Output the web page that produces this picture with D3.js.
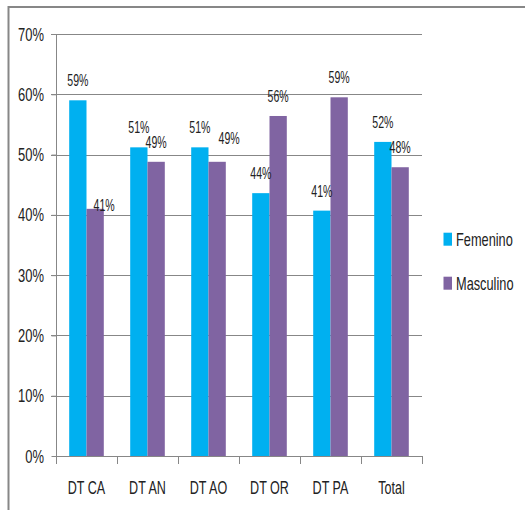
<!DOCTYPE html>
<html>
<head>
<meta charset="utf-8">
<script src="https://cdn.jsdelivr.net/npm/d3@7"></script>
<style>
  html, body { margin: 0; padding: 0; background: #fff; }
  svg { display: block; }
  text { font-family: "Liberation Sans", Arial, sans-serif; fill: #222; }
</style>
</head>
<body>
<svg id="chart" width="525" height="510"></svg>
<script>
// ---- data ----
const categories = ["DT CA", "DT AN", "DT AO", "DT OR", "DT PA", "Total"];
const series = ["Femenino", "Masculino"];
const femenino = [0.59, 0.512, 0.512, 0.436, 0.407, 0.521];
const masculino = [0.41, 0.488, 0.488, 0.564, 0.595, 0.479];
const labelsFem = ["59%", "51%", "51%", "44%", "41%", "52%"];
const labelsMasc = ["41%", "49%", "49%", "56%", "59%", "48%"];
const yTicks = [0, 0.1, 0.2, 0.3, 0.4, 0.5, 0.6, 0.7];
const colors = ["#00B0F0", "#8064A2"];

// label nudges (manual placements seen in the reference)
const labelNudge = { "Masculino|DT CA": [9, 16], "Masculino|DT AO": [12, -4] };

(function () {
const svg = d3.select("#chart");
const mLeft = 56, mRight = 422, mTop = 34, mBottom = 456;

const x = d3.scaleBand().domain(categories).range([mLeft, mRight]).paddingInner(0).paddingOuter(0);
const x1 = d3.scaleBand().domain(series).range([0, x.bandwidth()]).paddingInner(0).paddingOuter(0.763);
const y = d3.scaleLinear().domain([0, 0.7]).range([mBottom, mTop]);
const color = d3.scaleOrdinal().domain(series).range(colors);

// frame
svg.append("rect").attr("x", 8.5).attr("y", 7).attr("width", 540).attr("height", 540)
  .attr("fill", "none").attr("stroke", "#878787").attr("stroke-width", 2);

// gridlines
svg.append("g").selectAll("line").data(yTicks.filter(t => t > 0)).join("line")
  .attr("x1", mLeft - 5).attr("x2", mRight)
  .attr("y1", d => Math.round(y(d)) + 0.5).attr("y2", d => Math.round(y(d)) + 0.5)
  .attr("stroke", "#878787").attr("stroke-width", 1);

// y axis
const yAxis = svg.append("g").attr("transform", `translate(${mLeft + 0.5},0)`)
  .call(d3.axisLeft(y).tickValues(yTicks).tickSize(5).tickFormat(""));
yAxis.selectAll("path,line").attr("stroke", "#878787");
yAxis.select(".domain").attr("d", `M0,${mTop}V${mBottom}`);

svg.append("g").selectAll("text").data(yTicks).join("text")
  .attr("transform", d => `translate(44,${y(d) + 6.5}) scale(0.72,1)`)
  .attr("text-anchor", "end").style("font-size", "18px")
  .text(d3.format(".0%"));

// bars
const data = categories.map((c, i) => ({
  cat: c,
  vals: [
    { s: "Femenino", v: femenino[i], label: labelsFem[i] },
    { s: "Masculino", v: masculino[i], label: labelsMasc[i] }
  ]
}));

const groups = svg.append("g").selectAll("g").data(data).join("g")
  .attr("transform", d => `translate(${x(d.cat)},0)`);

groups.selectAll("rect").data(d => d.vals).join("rect")
  .attr("x", d => x1(d.s)).attr("width", x1.bandwidth())
  .attr("y", d => y(d.v)).attr("height", d => y(0) - y(d.v))
  .attr("fill", d => color(d.s));

groups.selectAll("text").data(d => d.vals.map(v => ({ ...v, cat: d.cat }))).join("text")
  .attr("transform", d => {
    const n = labelNudge[d.s + "|" + d.cat] || [0, 0];
    return `translate(${x1(d.s) + x1.bandwidth() / 2 + n[0]},${y(d.v) - 14 + n[1]}) scale(0.64,1)`;
  })
  .attr("text-anchor", "middle").style("font-size", "16.5px")
  .text(d => d.label);

// x axis
svg.append("line").attr("x1", mLeft).attr("x2", mRight + 0.5)
  .attr("y1", mBottom + 0.5).attr("y2", mBottom + 0.5).attr("stroke", "#878787");
const bounds = categories.map(c => x(c)).concat([x.range()[1]]);
svg.append("g").selectAll("line").data(bounds).join("line")
  .attr("x1", d => Math.round(d) + 0.5).attr("x2", d => Math.round(d) + 0.5)
  .attr("y1", mBottom).attr("y2", mBottom + 8).attr("stroke", "#878787");

svg.append("g").selectAll("text").data(categories).join("text")
  .attr("transform", d => `translate(${x(d) + x.bandwidth() / 2},494) scale(0.68,1)`)
  .attr("text-anchor", "middle").style("font-size", "18.5px")
  .text(d => d);

// legend
const legendY = [246, 290];
const legend = svg.append("g").selectAll("g").data(series).join("g");
legend.append("rect").attr("x", 443.5).attr("width", 8.5).attr("height", 13)
  .attr("y", (d, i) => legendY[i] - 13.3).attr("fill", d => color(d));
legend.append("text")
  .attr("transform", (d, i) => `translate(456,${legendY[i]}) scale(0.71,1)`)
  .style("font-size", "18px").text(d => d);
})();
</script>
</body>
</html>
